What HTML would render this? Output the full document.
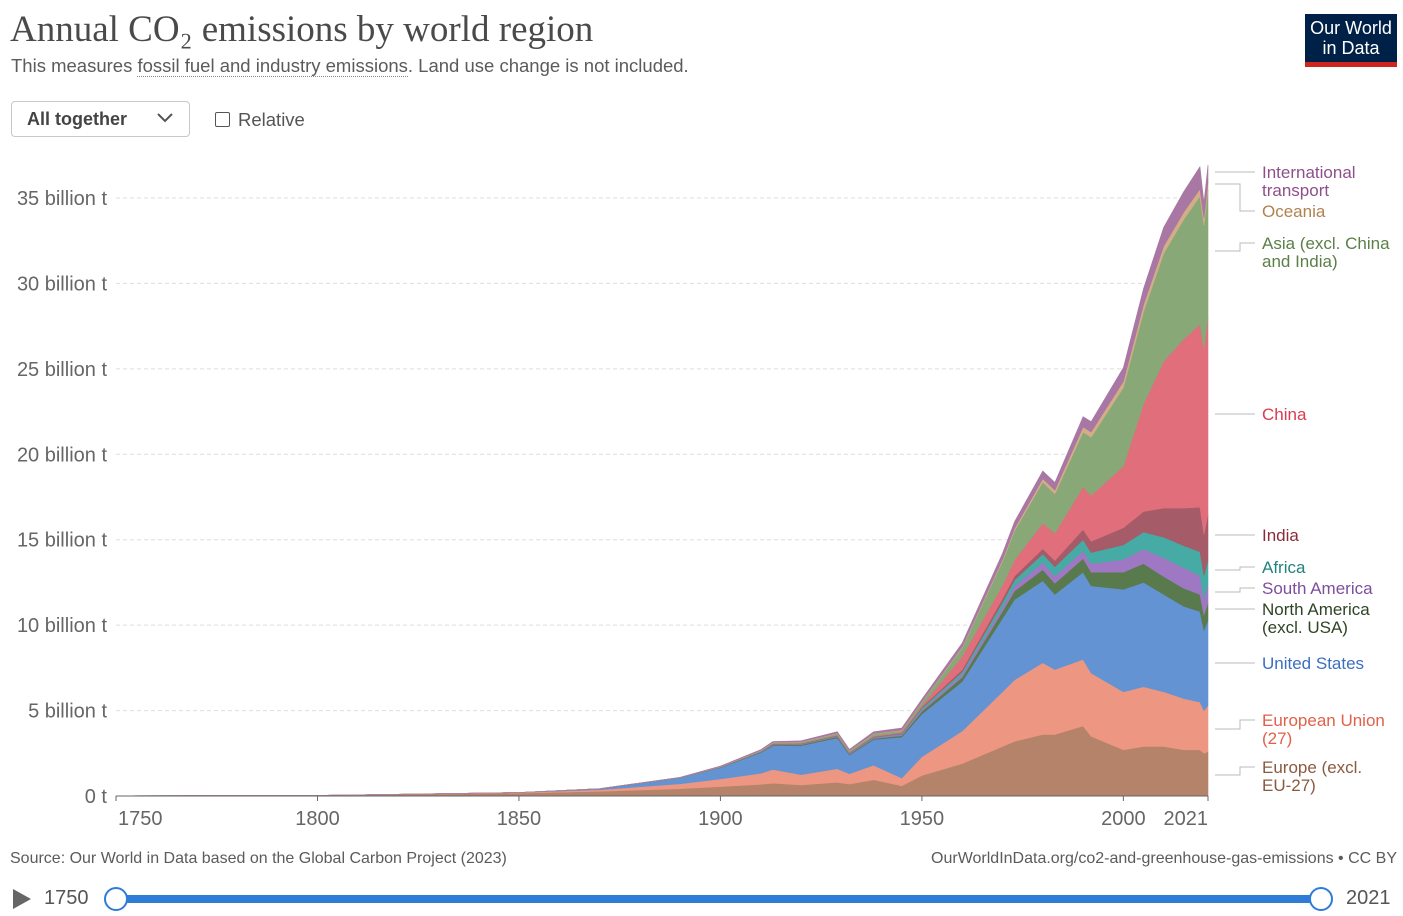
<!DOCTYPE html>
<html><head><meta charset="utf-8">
<style>
body{margin:0;width:1403px;height:916px;background:#fff;font-family:"Liberation Sans",sans-serif;position:relative;overflow:hidden}
.abs{position:absolute}
</style></head><body>
<div class="abs" style="left:10px;top:8px;font-family:'Liberation Serif',serif;font-size:37px;color:#4a4a4a">Annual CO₂ emissions by world region</div>
<div class="abs" style="left:11px;top:55px;font-size:18.5px;color:#5b5b5b">This measures <span style="border-bottom:1px dotted #888">fossil fuel and industry emissions</span>. Land use change is not included.</div>
<div class="abs" style="left:1305px;top:14px;width:92px;height:53px;background:#002147;color:#fff;font-size:18px;text-align:center;line-height:20px;box-sizing:border-box;padding-top:4px;border-bottom:5px solid #ce261e">Our World<br>in Data</div>
<div class="abs" style="left:11px;top:101px;width:179px;height:36px;border:1px solid #c8c8c8;border-radius:4px;box-sizing:border-box;font-size:18px;color:#444;line-height:34px;padding-left:15px;font-weight:bold">All together<span style="position:absolute;right:16px;top:-2px;font-weight:normal">
<svg width="16" height="10" viewBox="0 0 16 10"><path d="M1 1 L8 8 L15 1" stroke="#555" stroke-width="2" fill="none"/></svg></span></div>
<div class="abs" style="left:215px;top:112px;width:13px;height:13px;border:1px solid #555;border-radius:2px"></div>
<div class="abs" style="left:238px;top:109px;font-size:18.5px;color:#555">Relative</div>
<svg id="chart" class="abs" style="left:0;top:0" width="1403" height="916"></svg>
<div class="abs" style="left:10px;top:850px;font-size:16px;color:#5b5b5b">Source: Our World in Data based on the Global Carbon Project (2023)</div>
<div class="abs" style="right:6px;top:850px;font-size:16px;color:#5b5b5b">OurWorldInData.org/co2-and-greenhouse-gas-emissions • CC BY</div>
<div class="abs" style="left:13px;top:889px;width:0;height:0;border-left:18px solid #666;border-top:10px solid transparent;border-bottom:10px solid transparent"></div>
<div class="abs" style="left:44px;top:887px;font-size:20px;color:#555">1750</div>
<div class="abs" style="left:116px;top:895px;width:1205px;height:8px;background:#2f7bd8;border-radius:4px"></div>
<div class="abs" style="left:104px;top:887px;width:20px;height:20px;border:2px solid #2f7bd8;background:#fff;border-radius:50%"></div>
<div class="abs" style="left:1309px;top:887px;width:20px;height:20px;border:2px solid #2f7bd8;background:#fff;border-radius:50%"></div>
<div class="abs" style="left:1346px;top:887px;font-size:20px;color:#555">2021</div>
<script>
const years=[1750,1800,1850,1870,1890,1900,1910,1913,1920,1929,1932,1938,1945,1950,1960,1970,1973,1980,1983,1990,1992,2000,2005,2010,2015,2019,2020,2021];
const europe=[.009,.028,.17,.27,.43,.55,.68,.75,.65,.8,.7,.95,.6,1.2,1.9,2.9,3.2,3.6,3.6,4.1,3.5,2.7,2.9,2.9,2.7,2.7,2.5,2.6];
const eu27=[0,.002,.03,.1,.28,.45,.65,.8,.6,.8,.6,.85,.45,1.1,1.9,3.2,3.6,4.2,3.8,3.9,3.7,3.4,3.5,3.2,3.0,2.8,2.5,2.7];
const usa=[0,.0002,.005,.06,.35,.66,1.2,1.4,1.7,1.8,1.1,1.5,2.4,2.5,2.9,4.3,4.7,4.8,4.4,5.1,5.1,6.0,6.1,5.7,5.4,5.3,4.7,5.0];
const northAm=[0,0,0,0,.005,.015,.03,.04,.05,.06,.05,.06,.08,.15,.25,.4,.5,.65,.65,.8,.8,1.0,1.1,1.05,1.05,1.0,.9,1.0];
const southAm=[0,0,0,.002,.005,.01,.02,.03,.03,.04,.04,.05,.07,.1,.17,.25,.3,.42,.42,.45,.5,.75,.85,1.1,1.2,1.1,1.0,1.1];
const africa=[0,0,0,0,.002,.005,.01,.01,.015,.02,.02,.03,.04,.1,.15,.3,.35,.5,.55,.65,.65,.85,1.0,1.2,1.3,1.4,1.3,1.4];
const india=[0,0,0,0,.005,.01,.02,.03,.03,.03,.03,.04,.04,.06,.12,.2,.23,.3,.36,.6,.65,1.0,1.2,1.7,2.2,2.6,2.4,2.7];
const china=[0,0,0,0,0,.001,.005,.01,.015,.02,.02,.03,.05,.08,.78,.8,.95,1.5,1.6,2.5,2.7,3.6,6.3,8.6,9.9,10.7,10.9,11.5];
const asia=[0,0,0,0,.005,.02,.04,.05,.06,.09,.08,.12,.1,.2,.5,1.4,1.7,2.4,2.3,3.2,3.4,4.6,5.4,6.3,7.0,7.5,7.2,7.5];
const oceania=[0,0,0,0,.005,.01,.015,.02,.02,.025,.02,.025,.03,.03,.06,.1,.13,.2,.22,.3,.31,.37,.4,.43,.43,.43,.42,.43];
const intl=[0,0,0,0,.01,.02,.04,.05,.06,.08,.07,.1,.12,.15,.22,.35,.4,.45,.45,.6,.6,.8,.95,1.1,1.2,1.3,.9,1.0];
const yTicks=[0,5,10,15,20,25,30,35];
const yTickLabels=["0 t","5 billion t","10 billion t","15 billion t","20 billion t","25 billion t","30 billion t","35 billion t"];
const xTicks=[1750,1800,1850,1900,1950,2000,2021];

const NS="http://www.w3.org/2000/svg";
const svg=document.getElementById('chart');
const X=y=>116+(y-1750)*(1092/271);
const Y=v=>796-v*(598/35);
function mk(t,a){const e=document.createElementNS(NS,t);for(const k in a)e.setAttribute(k,a[k]);svg.appendChild(e);return e;}
yTicks.forEach((v,i)=>{
  if(v>0){const g=mk('line',{x1:116,x2:1208,y1:Y(v),y2:Y(v),stroke:'#ddd','stroke-dasharray':'4,3'});
  
  }
  const t=mk('text',{x:107,y:Y(v)+7,'text-anchor':'end','font-size':20,fill:'#666','font-family':'Liberation Sans'});
  t.textContent=yTickLabels[i];
  
  
});
const series=[
 ['europe-excl-eu27',europe,'#b5836a'],['eu27',eu27,'#ed9682'],['united-states',usa,'#6393d2'],
 ['north-america-excl-usa',northAm,'#587a4c'],['south-america',southAm,'#9e78c2'],['africa',africa,'#46aba4'],
 ['india',india,'#a55b68'],['china',china,'#e16e7b'],['asia-excl-china-india',asia,'#88a877'],
 ['oceania',oceania,'#d3ad85'],['international-transport',intl,'#a877a3']];
let base=years.map(()=>0);
series.forEach(([n,vals,c])=>{
  const top=base.map((b,i)=>b+vals[i]);
  let d='M'+years.map((y,i)=>X(y)+','+Y(top[i])).join('L');
  for(let i=years.length-1;i>=0;i--)d+='L'+X(years[i])+','+Y(base[i]);
  const p=mk('path',{d:d+'Z',fill:c,stroke:c,'stroke-width':0.6});
  
  
  base=top;
});
const ax=mk('line',{x1:116,x2:1208,y1:796,y2:796,stroke:'#666'});


xTicks.forEach(v=>{
  const tk=mk('line',{x1:X(v),x2:X(v),y1:796,y2:801,stroke:'#666'});
  
  
  const t=mk('text',{x:v===2021?X(v):X(v)+(v===1750?2:0),y:825,'text-anchor':v===2021?'end':(v===1750?'start':'middle'),'font-size':20,fill:'#666','font-family':'Liberation Sans'});
  t.textContent=v;
  
  
});
const labels=[
 [['International','transport'],172,'#8e4f8a',172],[['Oceania'],211,'#b08250',184],
 [['Asia (excl. China','and India)'],243,'#5c7f48',251],[['China'],414,'#d73c50',414],
 [['India'],535,'#8a2b3c',535],[['Africa'],567,'#23827c',570],[['South America'],588,'#7c4f9e',592],
 [['North America','(excl. USA)'],609,'#2f4424',609],[['United States'],663,'#3b6fc0',663],
 [['European Union','(27)'],720,'#e0614a',729],[['Europe (excl.','EU-27)'],767,'#8a5a3f',775]];
labels.forEach(([ls,ty,c,ly])=>{
  const l=mk('polyline',{points:`1215,${ly} 1240,${ly} 1240,${ty} 1255,${ty}`,fill:'none',stroke:'#bbb'});
  
  
  ls.forEach((s,j)=>{
    const t=mk('text',{x:1262,y:ty+6+j*18,'font-size':17,fill:c,'font-family':'Liberation Sans'});
    t.textContent=s;
    
    
  });
});
</script>
</body></html>
